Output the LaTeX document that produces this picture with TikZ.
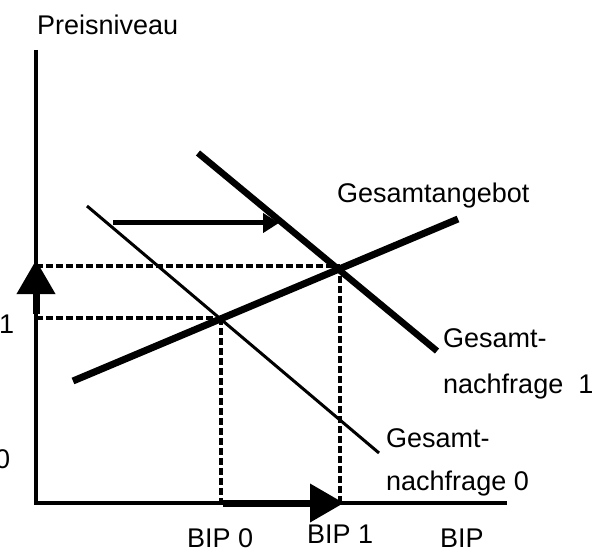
\documentclass[tikz,border=0pt]{standalone}
\usepackage{fontspec}
\setmainfont{Liberation Sans}
\usetikzlibrary{arrows.meta}
\begin{document}
\begin{tikzpicture}[x=1pt,y=-1pt,
  lbl/.style={inner sep=0pt,anchor=base west,font=\fontsize{27}{31}\selectfont},
  axisline/.style={line width=4pt},
  thickcurve/.style={line width=6.5pt},
  thincurve/.style={line width=3pt},
  helper/.style={line width=3.5pt,dash pattern=on 7pt off 3pt},
  bigarrow/.style={line width=7pt,-{Triangle[length=34pt,width=37pt]}},
  shiftarrow/.style={line width=5pt,-{Triangle[length=16pt,width=19pt]}}]
\useasboundingbox (0,0) rectangle (607,553);
% coordinates
\coordinate (O) at (36,503);
\coordinate (Ytop) at (36,50);
\coordinate (Xend) at (507,503);
\coordinate (E0) at (221,318);
\coordinate (E1) at (340,266);
\coordinate (E0y) at (36,318);
\coordinate (E1y) at (36,266);
\coordinate (E0x) at (221,503);
\coordinate (E1x) at (340,503);
\coordinate (S0) at (73,381);
\coordinate (S1) at (458,219);
\coordinate (DA) at (87,206);
\coordinate (DB) at (379,453);
\coordinate (DC) at (198,153);
\coordinate (DD) at (437,351);
\coordinate (Ashift0) at (113,223);
\coordinate (Ashift1) at (279,223);
\coordinate (Pup0) at (36,314);
\coordinate (Pup1) at (36,260);
\coordinate (Qr0) at (223,503);
\coordinate (Qr1) at (344,503);
% helper lines
\draw[helper] (E1y) -- (E1);
\draw[helper] (E0y) -- (E0);
\draw[helper] (E1) -- (E1x);
\draw[helper] (E0) -- (E0x);
% axes
\draw[axisline] (Ytop) -- (O) -- (Xend);
% curves
\draw[thincurve] (DA) -- (DB);
\draw[thickcurve] (DC) -- (DD);
\draw[line width=7pt] (S0) -- (S1);
% arrows
\draw[shiftarrow] (Ashift0) -- (Ashift1);
\draw[bigarrow] (Pup0) -- (Pup1);
\draw[bigarrow] (Qr0) -- (Qr1);
% labels
\node[lbl] (py) at (37,35) {Preisniveau};
\node[lbl] (sa) at (337,203) {Gesamtangebot};
\node[lbl] (d1a) at (443,347) {Gesamt-};
\node[lbl] (d1b) at (443,393) {nachfrage\ \ 1};
\node[lbl] (d0a) at (386,447) {Gesamt-};
\node[lbl] (d0b) at (386,490) {nachfrage 0};
\node[lbl] (b0) at (187,547) {BIP 0};
\node[lbl] (b1) at (307,543) {BIP 1};
\node[lbl] (bx) at (440,547) {BIP};
\node[lbl] (p1) at (-1,333) {1};
\node[lbl] (p0) at (-5,468) {0};
\end{tikzpicture}
\end{document}
